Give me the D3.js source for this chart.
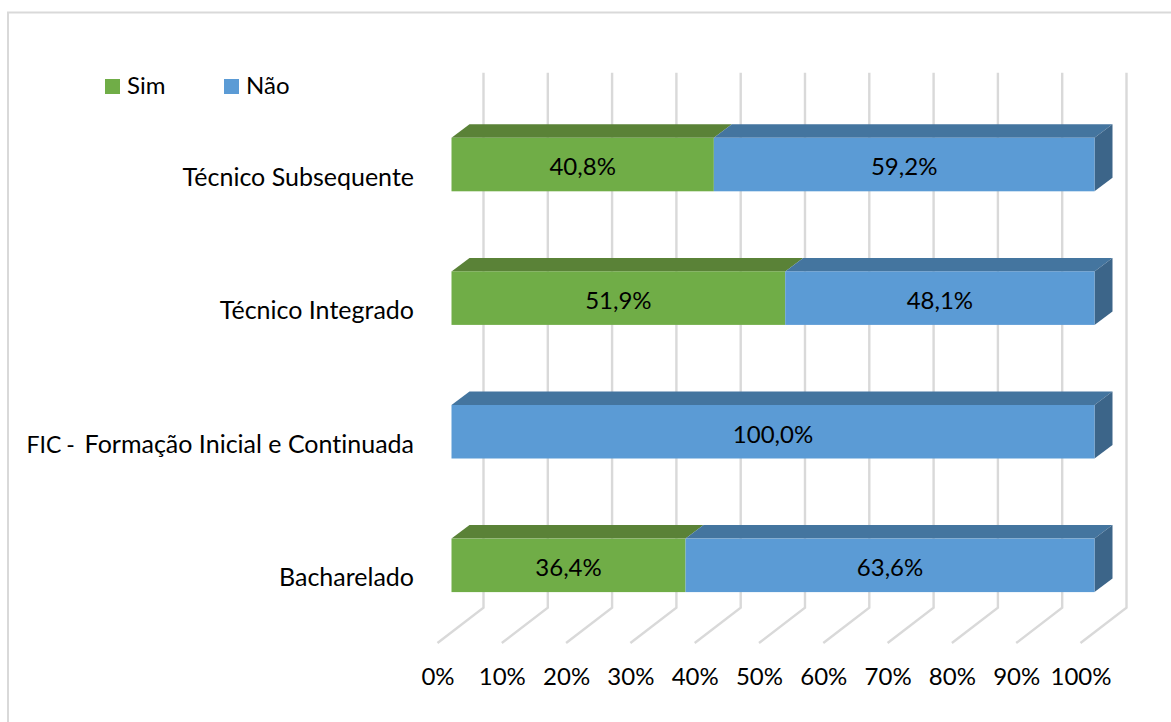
<!DOCTYPE html>
<html><head><meta charset="utf-8">
<script src="https://d3js.org/d3.v7.min.js"></script>
<style>html,body{margin:0;padding:0;background:#fff}svg{display:block}text{font-family:Lato,sans-serif;fill:#000;font-variant-ligatures:none;white-space:pre}</style>
</head><body><svg id="c" width="1171" height="722"></svg>
<script>
const categories=["Técnico Subsequente","Técnico Integrado","FIC -  Formação Inicial e Continuada","Bacharelado"];
const sim=[40.8,51.9,0,36.4];
const nao=[59.2,48.1,100,63.6];
const ticks=[0,10,20,30,40,50,60,70,80,90,100];
const fmt=v=>v.toFixed(1).replace(".",",")+"%";
const svg=d3.select("#c");
const fs=24;
svg.append("path").attr("d","M8,722V12.5H1171").attr("fill","none").attr("stroke","#d9d9d9").attr("stroke-width",2);
const x=d3.scaleLinear().domain([0,100]).range([451.5,1094.5]);
const barTop=i=>137.8+133.6*i;
const barH=53.5,dx=18,dy=13.5;
const g=svg.append("g").attr("fill","none").attr("stroke","#d9d9d9").attr("stroke-width",2.4);
ticks.forEach(t=>{
  g.append("path").attr("d",`M${x(t)+32},72.7V607.7L${x(t)-14},643`);
});
const colors={sim:["#70ad47","#5a8237","#5a8237"],nao:["#5b9bd5","#44759f","#3c6589"]};
categories.forEach((c,i)=>{
  const t=barTop(i);
  const segs=[["sim",0,sim[i]],["nao",sim[i],sim[i]+nao[i]]];
  segs.forEach(([k,a,b])=>{
    if(b-a<=0)return;
    const [front,top,side]=colors[k];
    svg.append("path").attr("fill",top).attr("d",`M${x(a)},${t}l${dx},${-dy}H${x(b)+dx}l${-dx},${dy}Z`);
    if(b>=100) svg.append("path").attr("fill",side).attr("d",`M${x(b)},${t}l${dx},${-dy}v${barH}l${-dx},${dy}Z`);
    svg.append("rect").attr("x",x(a)).attr("y",t).attr("width",x(b)-x(a)).attr("height",barH).attr("fill",front);
    svg.append("text").attr("x",x((a+b)/2)).attr("y",t+barH/2+2.5).attr("dy","0.35em").attr("text-anchor","middle").attr("font-size",fs).text(fmt(b-a));
  });
  const lab=svg.append("text").attr("x",414).attr("y",t+39).attr("dy","0.35em").attr("text-anchor","end").attr("font-size",25);
  const m=c.match(/^(.* - +)(.*)$/);
  if(m){
    lab.append("tspan").attr("font-size",23).style("word-spacing","-1px").text(m[1]);
    lab.append("tspan").text(m[2]);
  } else lab.text(c);
});
ticks.forEach(t=>{
  svg.append("text").attr("x",x(t)-13.5).attr("y",677).attr("dy","0.35em").attr("text-anchor","middle").attr("font-size",fs).text(t+"%");
});
const legend=[["Sim",105,"#70ad47"],["Não",224,"#5b9bd5"]];
legend.forEach(([l,lx,col])=>{
  svg.append("rect").attr("x",lx).attr("y",79).attr("width",15).attr("height",15).attr("fill",col);
  svg.append("text").attr("x",lx+22).attr("y",86).attr("dy","0.35em").attr("font-size",fs).text(l);
});
</script></body></html>
